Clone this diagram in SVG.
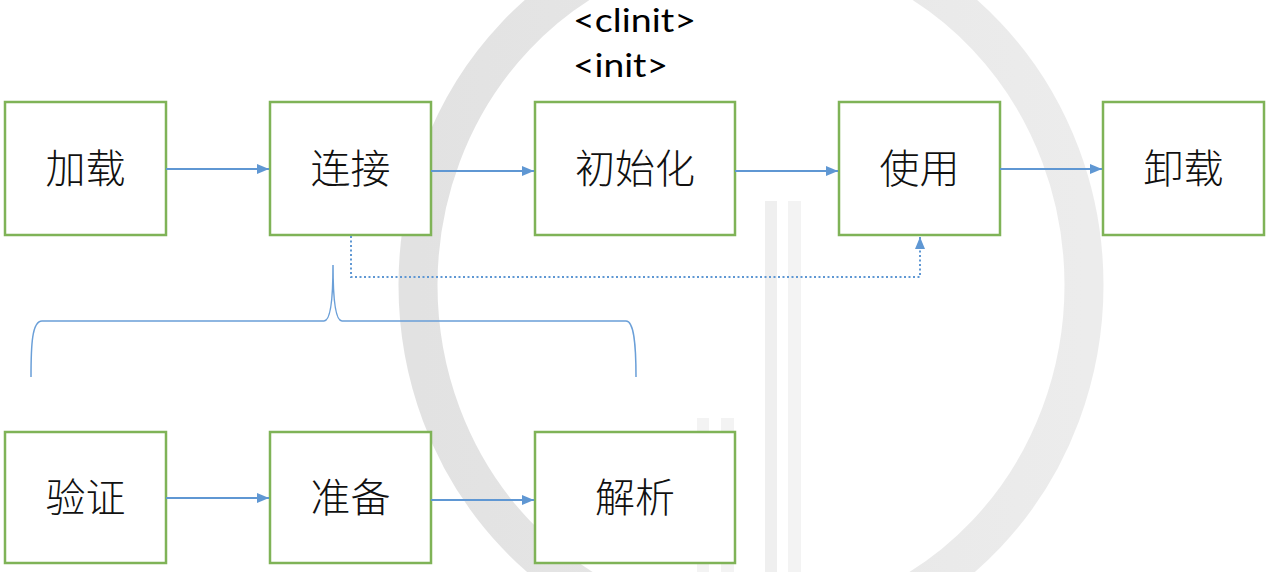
<svg xmlns="http://www.w3.org/2000/svg" width="1266" height="572" viewBox="0 0 1266 572">
<style>
.box{fill:#ffffff;stroke:#7fb357;stroke-width:2.5}
.lbl{font-family:"Noto Sans CJK SC","Noto Sans CJK JP",sans-serif;font-size:40px;font-weight:300;fill:#111111;text-anchor:middle}
.code{font-family:Lato,"Open Sans",sans-serif;font-size:33px;fill:#000000}
.conn{fill:none;stroke:#5f97d3;stroke-width:2}
.dot{fill:none;stroke:#5f97d3;stroke-width:2;stroke-dasharray:2 2.5}
.brace{fill:none;stroke:#6a9fd8;stroke-width:1.5}
</style>
<defs>
<marker id="ah" viewBox="0 0 12 10" refX="12" refY="5" markerWidth="12" markerHeight="10" markerUnits="userSpaceOnUse" orient="auto">
<path d="M0,0 L12,5 L0,10 z" fill="#5f97d3"/>
</marker>
<linearGradient id="rg" x1="0" y1="0" x2="1" y2="0">
<stop offset="0" stop-color="#e2e2e2"/>
<stop offset="1" stop-color="#ececec"/>
</linearGradient>
</defs>
<rect width="1266" height="572" fill="#ffffff"/>
<g id="watermark">
<ellipse cx="751" cy="285" rx="333" ry="352" fill="none" stroke="url(#rg)" stroke-width="39"/>
<rect x="765" y="201" width="12" height="371" fill="#efefef"/>
<rect x="788" y="201" width="13" height="371" fill="#f3f3f3"/>
<rect x="697" y="418" width="12" height="154" fill="#f3f3f3"/>
<rect x="721" y="418" width="13" height="154" fill="#f3f3f3"/>
</g>
<g id="brace">
<path class="brace" d="M31,377 C31,345 32,321 42,321 L324,321 C330,321 333,300 333,265 C333,300 336,321 342,321 L626,321 C634,321 636,345 636,377"/>
</g>
<g id="n-load"><rect class="box" x="5" y="102" width="161" height="133"/><text class="lbl" x="85.5" y="183">加载</text></g>
<g id="n-link"><rect class="box" x="270" y="102" width="161" height="133"/><text class="lbl" x="350.5" y="183">连接</text></g>
<g id="n-init"><rect class="box" x="535" y="102" width="200" height="133"/><text class="lbl" x="635" y="183">初始化</text></g>
<g id="n-use"><rect class="box" x="839" y="102" width="161" height="133"/><text class="lbl" x="919.5" y="183">使用</text></g>
<g id="n-unload"><rect class="box" x="1103" y="102" width="161" height="133"/><text class="lbl" x="1183.5" y="183">卸载</text></g>
<g id="n-verify"><rect class="box" x="5" y="432" width="161" height="131"/><text class="lbl" x="85.5" y="512">验证</text></g>
<g id="n-prepare"><rect class="box" x="270" y="432" width="161" height="131"/><text class="lbl" x="350.5" y="512">准备</text></g>
<g id="n-resolve"><rect class="box" x="535" y="432" width="200" height="131"/><text class="lbl" x="635" y="512">解析</text></g>
<g id="notes">
<text class="code" x="573" y="32" textLength="123" lengthAdjust="spacingAndGlyphs">&lt;clinit&gt;</text>
<text class="code" x="573" y="77" textLength="95" lengthAdjust="spacingAndGlyphs">&lt;init&gt;</text>
</g>
<g id="connectors">
<line class="conn" x1="166" y1="169" x2="269" y2="169" marker-end="url(#ah)"/>
<line class="conn" x1="431" y1="171" x2="534" y2="171" marker-end="url(#ah)"/>
<line class="conn" x1="735" y1="171" x2="838" y2="171" marker-end="url(#ah)"/>
<line class="conn" x1="1000" y1="169" x2="1102" y2="169" marker-end="url(#ah)"/>
<line class="conn" x1="166" y1="498" x2="269" y2="498" marker-end="url(#ah)"/>
<line class="conn" x1="431" y1="500" x2="534" y2="500" marker-end="url(#ah)"/>
<path class="dot" d="M351,236 L351,277 L920,277 L920,237" marker-end="url(#ah)"/>
</g>
</svg>
